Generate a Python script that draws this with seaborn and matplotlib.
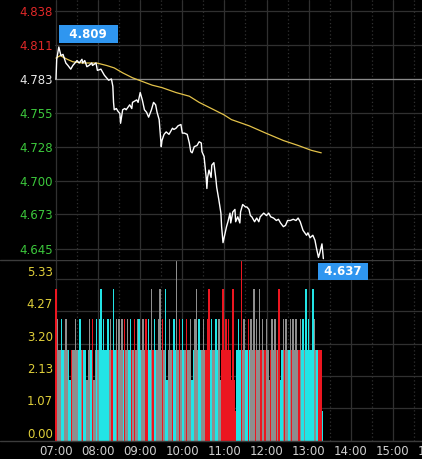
import numpy as np
import pandas as pd
import matplotlib
matplotlib.use("Agg")
import matplotlib.pyplot as plt
from matplotlib.lines import Line2D
import seaborn as sns

# minutes after 07:00 and last price
price_min = [0, 1, 4, 7, 10, 14, 17, 21, 24, 27, 30, 33, 37, 38, 41, 44, 47, 51, 52, 57,
             59, 64, 67, 69, 72, 75, 79, 81, 82, 83, 86, 88, 91, 92, 95, 98, 100, 105, 108, 109,
             115, 117, 120, 123, 126, 129, 132, 136, 139, 142, 144, 147, 150, 151, 154, 157, 161, 166, 168, 171,
             174, 178, 180, 183, 187, 190, 192, 194, 197, 201, 204, 207, 208, 211, 214, 215, 216, 218, 221, 222,
             225, 228, 229, 232, 235, 236, 238, 241, 243, 245, 248, 249, 252, 255, 256, 259, 262, 263, 266, 270,
             272, 275, 277, 279, 283, 286, 289, 291, 296, 300, 303, 306, 310, 314, 317, 320, 324, 327, 330, 334,
             338, 342, 345, 348, 352, 357, 359, 362, 366, 369, 371, 374, 376, 379, 381]
price_val = [4.783, 4.799, 4.809, 4.802, 4.803, 4.796, 4.794, 4.791, 4.794, 4.796, 4.798, 4.796, 4.799, 4.796, 4.798, 4.793, 4.794, 4.796, 4.794, 4.796,
             4.790, 4.791, 4.788, 4.786, 4.784, 4.782, 4.783, 4.777, 4.764, 4.758, 4.759, 4.757, 4.755, 4.747, 4.758, 4.759, 4.758, 4.762, 4.759, 4.764,
             4.766, 4.764, 4.772, 4.766, 4.758, 4.756, 4.752, 4.758, 4.764, 4.762, 4.756, 4.750, 4.728, 4.733, 4.738, 4.740, 4.738, 4.743, 4.742, 4.743,
             4.745, 4.746, 4.739, 4.739, 4.738, 4.731, 4.724, 4.723, 4.728, 4.729, 4.732, 4.731, 4.724, 4.720, 4.703, 4.694, 4.703, 4.709, 4.703, 4.713,
             4.715, 4.701, 4.695, 4.685, 4.674, 4.663, 4.650, 4.658, 4.663, 4.667, 4.674, 4.666, 4.675, 4.677, 4.667, 4.671, 4.666, 4.675, 4.681, 4.679,
             4.679, 4.677, 4.672, 4.671, 4.667, 4.670, 4.667, 4.671, 4.674, 4.672, 4.674, 4.671, 4.670, 4.668, 4.669, 4.666, 4.663, 4.664, 4.668, 4.668,
             4.669, 4.668, 4.670, 4.667, 4.660, 4.656, 4.658, 4.654, 4.656, 4.652, 4.646, 4.638, 4.642, 4.649, 4.637]

# average price line
avg_min = [0, 6, 16, 24, 38, 58, 72, 83, 95, 109, 123, 137, 151, 171, 190, 204, 239, 250, 275, 299, 324, 345, 364, 378]
avg_val = [4.800, 4.802, 4.799, 4.797, 4.796, 4.796, 4.794, 4.792, 4.788, 4.784, 4.781, 4.778,
           4.776, 4.772, 4.769, 4.764, 4.754, 4.750, 4.745, 4.739, 4.733, 4.729, 4.725, 4.723]

prev_close = 4.783
price_ticks = [4.645, 4.673, 4.700, 4.728, 4.755, 4.783, 4.811, 4.838]
vol_ticks = [0.00, 1.07, 2.13, 3.20, 4.27, 5.33]
hour_labels = ["07:00", "08:00", "09:00", "10:00", "11:00", "12:00", "13:00", "14:00", "15:00", "16:00"]

# volume per 2-minute bar, and side (r = up, c = down, g = flat)
vol_rows = [
    "5433433433", "2333433433", "3323434234", "3453433434", "3534343434",
    "3434334344", "3343434353", "4334534352", "3433436343", "4334334234",
    "5343343345", "3433434235", "3434325213", "4363433434", "3534353433",
    "4323434335", "2343433434", "3433434353", "43354333331",
]
side_rows = [
    "rgggccgggc", "crggggccgr", "ccgggcrggc", "gcccccccgg", "rccgrgggcr",
    "ggccrgrggc", "cgggrrccgr", "ccggggrgcc", "gggrccggrg", "ccgrgggccg",
    "ggccgggrrr", "ccggccggrr", "rrrrrrrrrc", "ccrggccrcg", "ggrgggrggr",
    "gggrgggrgr", "ccgrggcgrg", "gggrgccgcc", "ccccggcrrrc",
]

vol = [int(c) for c in "".join(vol_rows)]
side = list("".join(side_rows))
vol_min = np.arange(len(vol)) * 2
side_color = {"r": "#ec1620", "c": "#22e4e6", "g": "#8e8e8e"}

price_df = pd.DataFrame({"minute": price_min, "price": price_val})
avg_df = pd.DataFrame({"minute": avg_min, "price": avg_val})

sns.set_theme(style="dark", rc={
    "figure.facecolor": "black",
    "axes.facecolor": "black",
    "savefig.facecolor": "black",
    "axes.edgecolor": "black",
})
plt.rcParams["font.family"] = ["DejaVu Sans"]

W, H = 422, 459
px_per_min = 42.2 / 60
fig = plt.figure(figsize=(W / 100, H / 100), dpi=100)
ax_v = fig.add_axes([55 / W, (H - 441) / H, 401 / W, 181 / H])
ax_p = fig.add_axes([55 / W, (H - 260) / H, 401 / W, 260 / H])
ax_p.set_zorder(3)

xlim = (-1 / px_per_min, 400 / px_per_min)
grid_c = "#303030"

for ax in (ax_p, ax_v):
    ax.set_xlim(*xlim)
    ax.set_xticks(np.arange(len(hour_labels)) * 60)
    ax.set_xticks(np.arange(len(hour_labels)) * 60 + 30, minor=True)
    ax.grid(which="major", axis="x", color=grid_c, lw=0.9, ls="-")
    ax.grid(which="minor", axis="x", color=grid_c, lw=0.9, ls=(0, (1, 2)))
    ax.grid(which="major", axis="y", color=grid_c, lw=0.9, ls="-")
    ax.tick_params(which="both", length=0)
    for sp in ax.spines.values():
        sp.set_visible(False)

# price panel
sns.lineplot(data=avg_df, x="minute", y="price", color="#e3c24a", linewidth=0.9, ax=ax_p)
sns.lineplot(data=price_df, x="minute", y="price", color="white", linewidth=1.0,
             estimator=None, ax=ax_p)
ax_p.axhline(prev_close, color="#8a8a8a", lw=0.9, zorder=1)
ax_p.set_ylim(4.6359, 4.8472)
ax_p.set_yticks(price_ticks)
ax_p.set_yticklabels([f"{v:.3f}" for v in price_ticks], fontsize=8.5)
for lbl, v in zip(ax_p.get_yticklabels(), price_ticks):
    if v > prev_close + 1e-6:
        lbl.set_color("#e02828")
    elif v < prev_close - 1e-6:
        lbl.set_color("#3cc83c")
    else:
        lbl.set_color("#e8e8e8")
ax_p.tick_params(axis="y", pad=1.5)
ax_p.tick_params(axis="x", labelbottom=False)
ax_p.set_xlabel("")
ax_p.set_ylabel("")

i_max = int(np.argmax(price_val))
i_min = int(np.argmin(price_val))
box = dict(boxstyle="square,pad=0.2", fc="#2f96f0", ec="none")
ax_p.annotate(f"  {price_val[i_max]:.3f}  ", xy=(price_min[i_max], price_val[i_max]),
              xytext=(2.4, 6.4), textcoords="offset pixels", ha="left", va="bottom",
              color="white", fontsize=8.5, fontweight="bold", bbox=box, annotation_clip=False)
ax_p.annotate(f" {price_val[i_min]:.3f} ", xy=(price_min[i_min], price_val[i_min]),
              xytext=(-3, -6.4), textcoords="offset pixels", ha="left", va="top",
              color="white", fontsize=8.5, fontweight="bold", bbox=box, annotation_clip=False)

# volume panel
ax_v.bar(vol_min, vol, width=2.0, color=[side_color[s] for s in side], linewidth=0,
         antialiased=False, zorder=2)
ax_v.set_ylim(0, 5.95)
ax_v.set_yticks(vol_ticks)
ax_v.set_yticklabels([f"{v:.2f}" for v in vol_ticks], fontsize=8.5, color="#e0cf3a")
for lbl in ax_v.get_yticklabels():
    lbl.set_verticalalignment("bottom")
ax_v.tick_params(axis="y", pad=1.5)
ax_v.set_xticklabels(hour_labels, fontsize=8.5, color="#d0d0d0")
ax_v.tick_params(axis="x", pad=3)
ax_v.set_xlabel("")
ax_v.set_ylabel("")

for ypx in (260, 441):
    fig.add_artist(Line2D([0, 1], [(H - ypx) / H] * 2, color="#3c3c3c", lw=1.0,
                          transform=fig.transFigure, zorder=1))

fig.savefig("out.png", dpi=100, facecolor="black")
plt.close(fig)
